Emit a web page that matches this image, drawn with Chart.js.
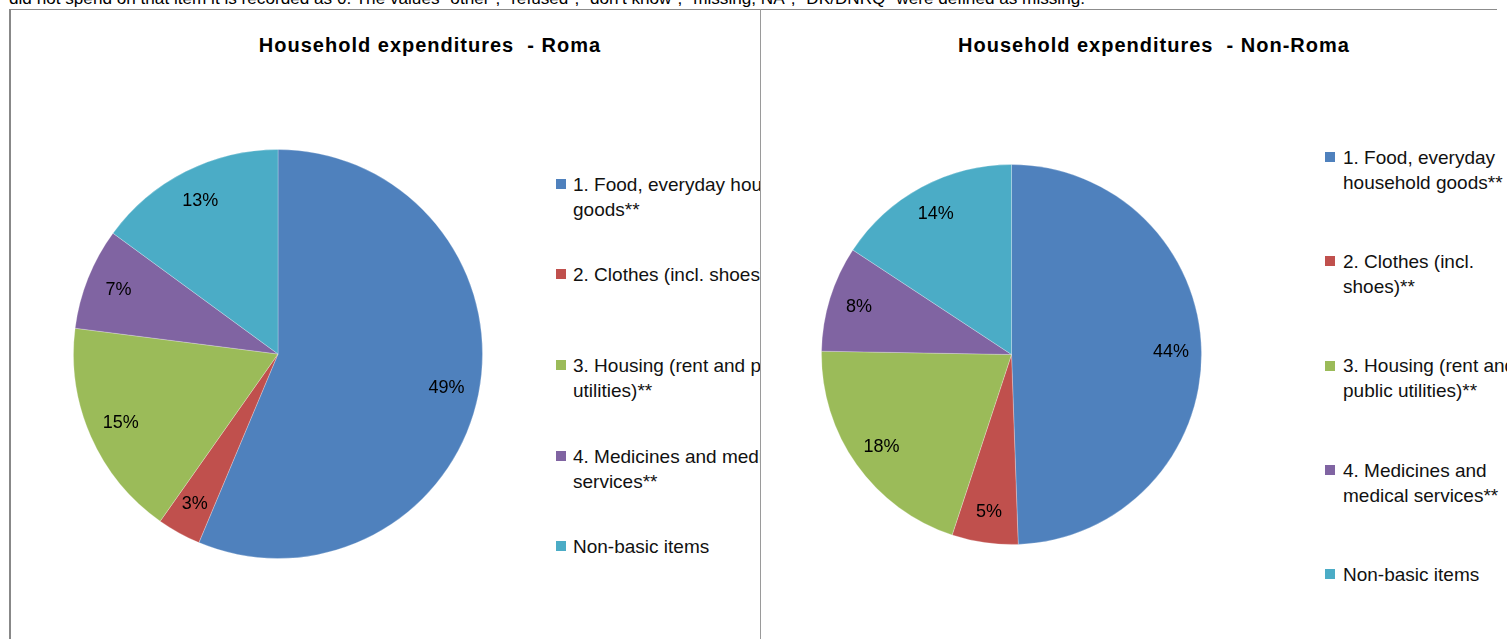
<!DOCTYPE html>
<html>
<head>
<meta charset="utf-8">
<script src="https://cdn.jsdelivr.net/npm/chart.js@4.4.1/dist/chart.umd.min.js"></script>
<style>
  html, body { margin: 0; padding: 0; background: #fff; }
  body { width: 1507px; height: 639px; position: relative; overflow: hidden;
         font-family: "Liberation Sans", Arial, sans-serif; color: #000; }
  .abs { position: absolute; }
  #note { left: 9px; top: -9px; font-size: 16px; line-height: 16px; white-space: pre;
          transform-origin: 0 0; }
  .panel { position: absolute; top: 0; height: 639px; overflow: hidden; }
  .title { position: absolute; top: 33px; font-size: 20px; line-height: 24px; font-weight: bold;
           white-space: pre; letter-spacing: 1px; transform: translateX(-50%); }
  .leg-line { position: absolute; font-size: 19px; line-height: 25px; white-space: nowrap; color: #111; }
  .leg-box { position: absolute; width: 10px; height: 10px; }
  .rule { position: absolute; background: #8c8c8c; }
</style>
</head>
<body>
<div id="note" class="abs"></div>

<div class="rule" style="left:9px; top:9px; width:1488px; height:1px;"></div>
<div class="rule" style="left:9px; top:9px; width:2px; height:630px; background:#888;"></div>
<div class="rule" style="left:760px; top:9px; width:1px; height:630px; background:#9a9a9a;"></div>

<div id="panelA" class="panel" style="left:11px; width:749px;">
  <div class="title" style="left:419px;" id="titleA"></div>
  <canvas id="pieA" width="410" height="410" style="position:absolute; left:62px; top:149px;"></canvas>
</div>
<div id="panelB" class="panel" style="left:761px; width:746px;">
  <div class="title" style="left:393px;" id="titleB"></div>
  <canvas id="pieB" width="381" height="381" style="position:absolute; left:60px; top:164px;"></canvas>
</div>

<script>
// Expenditure categories and the share of household spending for each group
const categories = [
  "1. Food, everyday household goods**",
  "2. Clothes (incl. shoes)**",
  "3. Housing (rent and public utilities)**",
  "4. Medicines and medical services**",
  "Non-basic items"
];
const romaShares = [49, 3, 15, 7, 13];
const nonRomaShares = [44, 5, 18, 8, 14];

const chartTitles = ["Household expenditures  - Roma", "Household expenditures  - Non-Roma"];
const noteText = 'did not spend on that item it is recorded as 0. The values "other", "refused", "don\'t know", "missing, NA", "DK/DNRQ" were defined as missing.';

// Legend text broken into lines as it wraps in each panel
const romaLegendLines = [
  ["1. Food, everyday household", "goods**"],
  ["2. Clothes (incl. shoes)**"],
  ["3. Housing (rent and public", "utilities)**"],
  ["4. Medicines and medical", "services**"],
  ["Non-basic items"]
];
const nonRomaLegendLines = [
  ["1. Food, everyday", "household goods**"],
  ["2. Clothes (incl.", "shoes)**"],
  ["3. Housing (rent and", "public utilities)**"],
  ["4. Medicines and", "medical services**"],
  ["Non-basic items"]
];

const sliceColors = ["#4F81BD", "#C0504D", "#9BBB59", "#8064A2", "#4BACC6"];

// Footnote line running off the top edge
const note = document.getElementById("note");
note.textContent = noteText;
const noteWidth = note.getBoundingClientRect().width;
note.style.transform = "scaleX(" + (1076 / noteWidth) + ")";

document.getElementById("titleA").textContent = chartTitles[0];
document.getElementById("titleB").textContent = chartTitles[1];

// HTML legend, one block per panel
function buildLegend(panelId, lines, boxLeft, textLeft, firstBaseline, step) {
  const panel = document.getElementById(panelId);
  lines.forEach((itemLines, i) => {
    const base = firstBaseline + i * step;
    const box = document.createElement("div");
    box.className = "leg-box";
    box.style.left = boxLeft + "px";
    box.style.top = (base - 12) + "px";
    box.style.background = sliceColors[i];
    panel.appendChild(box);
    itemLines.forEach((t, j) => {
      const d = document.createElement("div");
      d.className = "leg-line";
      d.textContent = t;
      d.style.left = textLeft + "px";
      d.style.top = (base - 19.1 + j * 25) + "px";
      panel.appendChild(d);
    });
  });
}
buildLegend("panelA", romaLegendLines, 545, 562, 190.7, 90.65);
buildLegend("panelB", nonRomaLegendLines, 564, 582, 164.3, 104.1);

// Percent labels placed inside each slice
const sliceLabels = {
  id: "sliceLabels",
  afterDatasetsDraw(chart) {
    const ctx = chart.ctx;
    const meta = chart.getDatasetMeta(0);
    const values = chart.data.datasets[0].data;
    ctx.save();
    ctx.font = "18px 'Liberation Sans', Arial, sans-serif";
    ctx.fillStyle = "#000";
    ctx.textAlign = "center";
    ctx.textBaseline = "middle";
    meta.data.forEach((arc, i) => {
      const p = arc.getProps(["x", "y", "startAngle", "endAngle", "outerRadius"], true);
      const mid = (p.startAngle + p.endAngle) / 2;
      const r = p.outerRadius * 0.84;
      ctx.fillText(values[i] + "%", p.x + Math.cos(mid) * r, p.y + Math.sin(mid) * r);
    });
    ctx.restore();
  }
};

function makePie(canvasId, values) {
  return new Chart(document.getElementById(canvasId), {
    type: "pie",
    data: {
      labels: categories,
      datasets: [{
        data: values,
        backgroundColor: sliceColors,
        borderColor: "rgba(255,255,255,0.25)",
        borderWidth: 1
      }]
    },
    options: {
      responsive: false,
      animation: false,
      events: [],
      layout: { padding: 0 },
      plugins: { legend: { display: false }, tooltip: { enabled: false }, title: { display: false } }
    },
    plugins: [sliceLabels]
  });
}
makePie("pieA", romaShares);
makePie("pieB", nonRomaShares);
</script>
</body>
</html>
